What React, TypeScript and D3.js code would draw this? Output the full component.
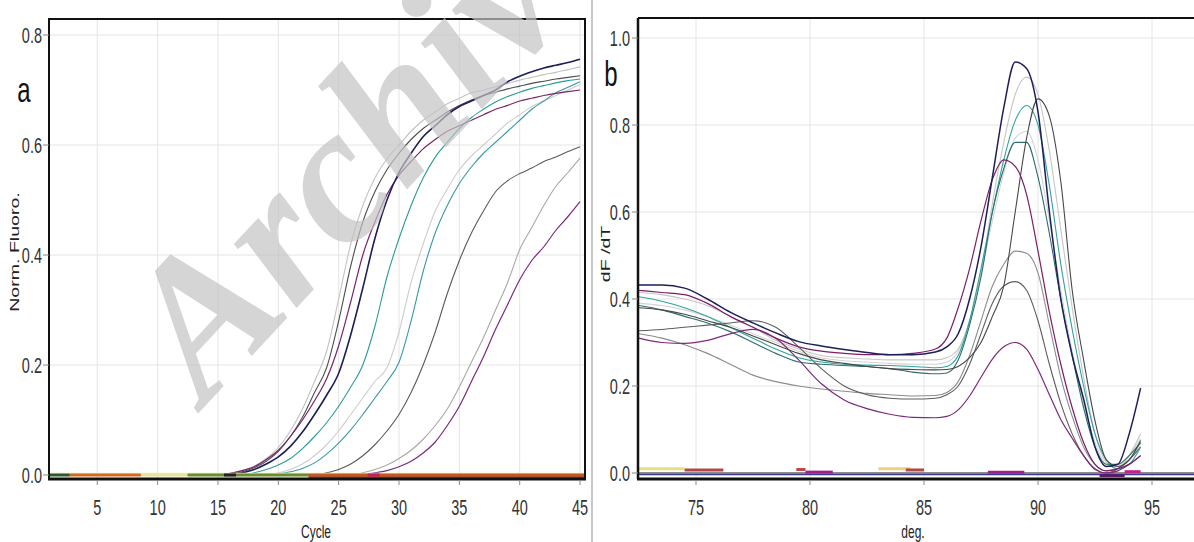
import React from "react";
import * as d3 from "d3";

// ---------- Panel a: amplification curves (Norm. Fluoro. vs Cycle) ----------
const CYCLES = d3.range(1, 46);
const AMP_X_TICKS = [5, 10, 15, 20, 25, 30, 35, 40, 45];
const AMP_Y_TICKS = [0, 0.2, 0.4, 0.6, 0.8];

const ampLightGrayA = [0,0,0,0,0,0,0,0,0,0,0,0,0,0,0,0.003,0.008,0.016,0.03,0.05,0.08,0.12,0.17,0.225,0.32,0.42,0.49,0.54,0.575,0.6,0.625,0.645,0.66,0.675,0.685,0.695,0.7,0.706,0.712,0.718,0.723,0.728,0.732,0.737,0.742];
const ampDarkGrayA = [0,0,0,0,0,0,0,0,0,0,0,0,0,0,0,0.002,0.006,0.013,0.025,0.043,0.07,0.105,0.15,0.195,0.28,0.38,0.46,0.515,0.555,0.585,0.61,0.63,0.645,0.66,0.672,0.682,0.69,0.696,0.702,0.707,0.712,0.716,0.72,0.723,0.726];
const ampPurpleA = [0,0,0,0,0,0,0,0,0,0,0,0,0,0,0,0.003,0.008,0.015,0.028,0.045,0.07,0.1,0.135,0.175,0.235,0.315,0.4,0.46,0.51,0.545,0.57,0.593,0.61,0.625,0.635,0.645,0.655,0.665,0.672,0.68,0.685,0.69,0.694,0.697,0.7];
const ampNavy = [0,0,0,0,0,0,0,0,0,0,0,0,0,0,0,0,0.004,0.01,0.02,0.033,0.052,0.078,0.11,0.145,0.185,0.255,0.34,0.43,0.5,0.55,0.585,0.615,0.635,0.655,0.67,0.68,0.69,0.7,0.715,0.725,0.733,0.74,0.745,0.75,0.756];
const ampTealA = [0,0,0,0,0,0,0,0,0,0,0,0,0,0,0,0,0,0.004,0.01,0.018,0.03,0.048,0.07,0.095,0.125,0.16,0.2,0.27,0.36,0.43,0.49,0.54,0.578,0.605,0.63,0.65,0.665,0.678,0.688,0.696,0.703,0.708,0.713,0.717,0.72];
const ampLightGrayB = [0,0,0,0,0,0,0,0,0,0,0,0,0,0,0,0,0,0,0,0.004,0.01,0.02,0.035,0.055,0.08,0.11,0.14,0.17,0.195,0.26,0.35,0.42,0.48,0.52,0.555,0.58,0.6,0.62,0.64,0.655,0.67,0.68,0.69,0.7,0.71];
const ampTealB = [0,0,0,0,0,0,0,0,0,0,0,0,0,0,0,0,0,0,0,0.002,0.006,0.012,0.022,0.038,0.058,0.082,0.11,0.14,0.17,0.205,0.28,0.37,0.44,0.49,0.53,0.56,0.585,0.605,0.625,0.645,0.665,0.68,0.695,0.705,0.715];
const ampDarkGrayB = [0,0,0,0,0,0,0,0,0,0,0,0,0,0,0,0,0,0,0,0,0,0,0,0.004,0.01,0.02,0.035,0.055,0.08,0.11,0.15,0.2,0.26,0.33,0.39,0.44,0.48,0.515,0.535,0.548,0.558,0.57,0.578,0.588,0.597];
const ampLightGrayC = [0,0,0,0,0,0,0,0,0,0,0,0,0,0,0,0,0,0,0,0,0,0,0,0,0,0,0.004,0.01,0.018,0.03,0.045,0.065,0.09,0.12,0.16,0.205,0.25,0.3,0.35,0.41,0.45,0.49,0.525,0.55,0.576];
const ampPurpleB = [0,0,0,0,0,0,0,0,0,0,0,0,0,0,0,0,0,0,0,0,0,0,0,0,0,0,0,0.004,0.008,0.015,0.025,0.04,0.06,0.09,0.125,0.17,0.215,0.265,0.31,0.355,0.39,0.415,0.445,0.47,0.497];

const AMP_SERIES = [
  { values: ampLightGrayC, color: "#a8a8a8", width: 1.1 },
  { values: ampLightGrayB, color: "#cdcdcd", width: 1.1 },
  { values: ampLightGrayA, color: "#c2c2c2", width: 1.1 },
  { values: ampTealB, color: "#3a98a8", width: 1.1 },
  { values: ampTealA, color: "#2a9c98", width: 1.1 },
  { values: ampDarkGrayB, color: "#5a5a5a", width: 1.1 },
  { values: ampDarkGrayA, color: "#4e4e4e", width: 1.1 },
  { values: ampPurpleB, color: "#7a2a80", width: 1.2 },
  { values: ampPurpleA, color: "#7b2466", width: 1.2 },
  { values: ampNavy, color: "#1e1e5a", width: 1.6 },
];

// baseline (no-amplification) traces, in cycles
const AMP_BASE_START = [1, 2.7, 8.6, 12.5, 15.5, 22.5, 27.4];
const AMP_BASE_END = [2.7, 8.6, 12.5, 22.5, 16.5, 45.4, 28.4];
const AMP_BASE_COLOR = ["#2d5a27", "#d2691e", "#e6e49c", "#6b8e2a", "#222222", "#c8561c", "#c02060"];

// ---------- Panel b: melt curves (dF/dT vs deg.) ----------
const MELT_X_TICKS = [75, 80, 85, 90, 95];
const MELT_Y_TICKS = [0, 0.2, 0.4, 0.6, 0.8, 1.0];
const TEMPS = [72.5,73.5,74.5,75.5,76.5,77.5,78.5,79.5,80.5,81.5,82.5,83.5,84.5,85.5,86,86.5,87,87.5,88,88.5,89,89.5,90,90.5,91,91.5,92,92.5,93,93.5,94,94.5];

const meltNavy = [0.432,0.432,0.425,0.4,0.37,0.345,0.322,0.302,0.292,0.284,0.277,0.272,0.272,0.278,0.29,0.32,0.4,0.52,0.68,0.84,0.945,0.93,0.83,0.6,0.4,0.27,0.17,0.06,0.015,0.02,0.09,0.195];
const meltLightGrayA = [0.415,0.41,0.4,0.385,0.36,0.335,0.305,0.285,0.27,0.265,0.262,0.26,0.26,0.26,0.265,0.285,0.35,0.46,0.62,0.76,0.87,0.91,0.87,0.74,0.56,0.38,0.22,0.09,0.025,0.01,0.04,0.09];
const meltDarkGrayA = [0.38,0.375,0.365,0.35,0.335,0.315,0.295,0.275,0.26,0.252,0.245,0.24,0.238,0.237,0.238,0.245,0.265,0.3,0.36,0.43,0.6,0.77,0.86,0.82,0.67,0.42,0.26,0.12,0.03,0.015,0.03,0.075];
const meltTeal = [0.405,0.395,0.38,0.36,0.335,0.31,0.285,0.265,0.255,0.25,0.248,0.247,0.245,0.242,0.245,0.27,0.35,0.47,0.6,0.72,0.81,0.845,0.8,0.66,0.48,0.33,0.2,0.09,0.03,0.01,0.02,0.06];
const meltLightGrayB = [0.39,0.385,0.375,0.36,0.34,0.32,0.3,0.28,0.265,0.258,0.255,0.252,0.25,0.25,0.255,0.28,0.35,0.46,0.58,0.69,0.77,0.785,0.72,0.58,0.42,0.28,0.16,0.07,0.02,0.015,0.04,0.08];
const meltDarkTeal = [0.385,0.375,0.36,0.345,0.325,0.3,0.275,0.255,0.25,0.247,0.245,0.24,0.232,0.228,0.23,0.26,0.34,0.45,0.6,0.7,0.76,0.76,0.68,0.55,0.4,0.27,0.15,0.06,0.02,0.02,0.04,0.07];
const meltPurpleA = [0.42,0.415,0.41,0.39,0.36,0.335,0.31,0.29,0.28,0.275,0.272,0.272,0.275,0.285,0.31,0.38,0.47,0.58,0.675,0.72,0.705,0.64,0.51,0.37,0.25,0.15,0.07,0.02,0.005,0.01,0.02,0.04];
const meltGray = [0.32,0.31,0.295,0.275,0.25,0.225,0.21,0.2,0.193,0.188,0.183,0.18,0.177,0.178,0.185,0.21,0.27,0.35,0.43,0.48,0.51,0.505,0.46,0.34,0.22,0.13,0.06,0.02,0.005,0.01,0.03,0.07];
const meltDarkGrayB = [0.327,0.33,0.335,0.34,0.345,0.35,0.335,0.29,0.24,0.2,0.18,0.172,0.17,0.172,0.18,0.2,0.25,0.32,0.39,0.43,0.44,0.42,0.35,0.25,0.16,0.09,0.04,0.01,0,0.01,0.03,0.06];
const meltPurpleB = [0.31,0.3,0.298,0.305,0.32,0.33,0.31,0.26,0.205,0.168,0.148,0.135,0.128,0.127,0.13,0.145,0.177,0.22,0.262,0.29,0.3,0.285,0.238,0.18,0.123,0.08,0.04,0.008,0,0.005,0.02,0.04];

const MELT_SERIES = [
  { values: meltLightGrayB, color: "#d4d4d4", width: 1.1 },
  { values: meltLightGrayA, color: "#c6c6c6", width: 1.1 },
  { values: meltGray, color: "#8c8c8c", width: 1.1 },
  { values: meltDarkGrayB, color: "#5e5e5e", width: 1.1 },
  { values: meltTeal, color: "#2fa3a0", width: 1.1 },
  { values: meltDarkTeal, color: "#2d6f6c", width: 1.1 },
  { values: meltDarkGrayA, color: "#474747", width: 1.1 },
  { values: meltPurpleB, color: "#7d2a7d", width: 1.2 },
  { values: meltPurpleA, color: "#7c1f68", width: 1.2 },
  { values: meltNavy, color: "#1e1e5c", width: 1.5 },
];

const MELT_BASE_START = [72.5, 74.5, 79.4, 79.8, 83, 84.2, 87.8, 92.7, 93.8];
const MELT_BASE_END = [74.5, 76.2, 79.8, 81, 84.4, 85, 89.4, 93.8, 94.5];
const MELT_BASE_LEVEL = [0.01, 0.007, 0.008, 0.002, 0.01, 0.007, 0.002, -0.006, 0.003];
const MELT_BASE_COLOR = ["#e8e080", "#b04848", "#c04848", "#a0208a", "#f0d080", "#b04848", "#a0208a", "#5a1a6a", "#c0208a"];

const FONT = "'Liberation Sans', Arial, Helvetica, sans-serif";
const SY = 1.5;

function SText({ x, y, children, size, anchor = "middle", sy = SY, rotate = 0, fill = "#333", family = FONT }: any) {
  return (
    <text
      transform={`translate(${x},${y}) scale(1,${sy}) rotate(${rotate})`}
      fontSize={size}
      fontFamily={family}
      textAnchor={anchor}
      dominantBaseline="central"
      fill={fill}
    >
      {children}
    </text>
  );
}

export default function App() {
  const W = 1194;
  const H = 542;
  const fmt = d3.format(".1f");

  // panel a geometry
  const aL = 49, aR = 585, aT = 19, aB = 479;
  const xA = d3.scaleLinear().domain([1, 45.41]).range([aL, aR]);
  const yA = d3.scaleLinear().domain([0, 0.8]).range([475, 35]);
  const lineA = d3
    .line<number>()
    .x((_, i) => xA(CYCLES[i]))
    .y((d) => yA(d))
    .curve(d3.curveMonotoneX);

  // panel b geometry
  const bL = 638, bR = 1200, bT = 18, bB = 479;
  const xB = d3.scaleLinear().domain([75, 95]).range([696, 1152]);
  const yB = d3.scaleLinear().domain([0, 1]).range([473, 38]);
  const lineB = d3
    .line<number>()
    .x((_, i) => xB(TEMPS[i]))
    .y((d) => yB(d))
    .curve(d3.curveMonotoneX);

  const grid = "#e4e4e4";
  const tickCol = "#888";

  return (
    <svg width={W} height={H} style={{ position: "absolute", left: 0, top: 0, background: "#fff" }}>
      <defs>
        <clipPath id="clipA">
          <rect x={aL} y={aT} width={aR - aL} height={aB - aT} />
        </clipPath>
        <clipPath id="clipB">
          <rect x={bL} y={bT} width={bR - bL} height={bB - bT} />
        </clipPath>
      </defs>
      <rect x={0} y={0} width={W} height={H} fill="#fff" />

      {/* ---------------- Panel a ---------------- */}
      <g>
        {AMP_X_TICKS.map((t) => (
          <line key={"agx" + t} x1={xA(t)} x2={xA(t)} y1={aT} y2={aB} stroke={grid} strokeWidth={1} />
        ))}
        {AMP_Y_TICKS.map((t) => (
          <line key={"agy" + t} x1={aL} x2={aR} y1={yA(t)} y2={yA(t)} stroke={grid} strokeWidth={1} />
        ))}
        <g clipPath="url(#clipA)">
          {AMP_SERIES.map((s, i) => (
            <path key={"as" + i} d={lineA(s.values) || ""} fill="none" stroke={s.color} strokeWidth={s.width} />
          ))}
          <line x1={aL} x2={aR} y1={yA(0) - 1.5} y2={yA(0) - 1.5} stroke="#f3eaa8" strokeWidth={1.5} />
          <line x1={xA(22.5)} x2={aR} y1={yA(0) + 2} y2={yA(0) + 2} stroke="#6a0f0f" strokeWidth={1.5} />
          {AMP_BASE_START.map((s, i) => (
            <line
              key={"ab" + i}
              x1={xA(s)}
              x2={xA(AMP_BASE_END[i])}
              y1={yA(0)}
              y2={yA(0)}
              stroke={AMP_BASE_COLOR[i]}
              strokeWidth={3}
            />
          ))}
        </g>
        <rect x={aL} y={aT} width={aR - aL} height={aB - aT} fill="none" stroke="#111" strokeWidth={2} />
        <line x1={aL - 1} x2={aR + 1} y1={aB} y2={aB} stroke="#111" strokeWidth={3} />
        {AMP_Y_TICKS.map((t) => (
          <g key={"ayt" + t}>
            <line x1={aL - 6} x2={aL} y1={yA(t)} y2={yA(t)} stroke={tickCol} strokeWidth={1} />
            <SText x={aL - 7} y={yA(t)} size={14.5} anchor="end">
              {fmt(t)}
            </SText>
          </g>
        ))}
        {AMP_X_TICKS.map((t) => (
          <g key={"axt" + t}>
            <line x1={xA(t)} x2={xA(t)} y1={aB + 1} y2={aB + 6} stroke={tickCol} strokeWidth={1} />
            <SText x={xA(t)} y={507} size={14.5}>
              {t}
            </SText>
          </g>
        ))}
        <SText x={316} y={532} size={12} fill="#222">
          Cycle
        </SText>
        <SText x={15} y={252} size={13.5} rotate={-90} sy={1.45} fill="#222">
          Norm. Fluoro.
        </SText>
        <SText x={24} y={90} size={24} sy={1.45} fill="#111">
          a
        </SText>
      </g>

      {/* divider */}
      <line x1={592} x2={592} y1={0} y2={H} stroke="#b4b4b4" strokeWidth={1.5} />

      {/* ---------------- Panel b ---------------- */}
      <g>
        {MELT_X_TICKS.map((t) => (
          <line key={"bgx" + t} x1={xB(t)} x2={xB(t)} y1={bT} y2={bB} stroke={grid} strokeWidth={1} />
        ))}
        {MELT_Y_TICKS.map((t) => (
          <line key={"bgy" + t} x1={bL} x2={bR} y1={yB(t)} y2={yB(t)} stroke={grid} strokeWidth={1} />
        ))}
        <g clipPath="url(#clipB)">
          <line x1={bL} x2={bR} y1={yB(0) + 1.5} y2={yB(0) + 1.5} stroke="#3a3a90" strokeWidth={1.5} />
          <line x1={bL} x2={bR} y1={yB(0)} y2={yB(0)} stroke="#6a6a6a" strokeWidth={1.5} />
          {MELT_SERIES.map((s, i) => (
            <path key={"ms" + i} d={lineB(s.values) || ""} fill="none" stroke={s.color} strokeWidth={s.width} />
          ))}
          {MELT_BASE_START.map((s, i) => (
            <line
              key={"mb" + i}
              x1={xB(s)}
              x2={xB(MELT_BASE_END[i])}
              y1={yB(MELT_BASE_LEVEL[i])}
              y2={yB(MELT_BASE_LEVEL[i])}
              stroke={MELT_BASE_COLOR[i]}
              strokeWidth={3}
            />
          ))}
        </g>
        <line x1={bL} x2={bR} y1={bT} y2={bT} stroke="#111" strokeWidth={2} />
        <line x1={bL} x2={bL} y1={bT} y2={bB} stroke="#111" strokeWidth={2.5} />
        <line x1={bL - 1} x2={bR} y1={bB} y2={bB} stroke="#111" strokeWidth={3} />
        {MELT_Y_TICKS.map((t) => (
          <g key={"byt" + t}>
            <line x1={bL - 6} x2={bL} y1={yB(t)} y2={yB(t)} stroke={tickCol} strokeWidth={1} />
            <SText x={bL - 8} y={yB(t)} size={14.5} anchor="end">
              {fmt(t)}
            </SText>
          </g>
        ))}
        {MELT_X_TICKS.map((t) => (
          <g key={"bxt" + t}>
            <line x1={xB(t)} x2={xB(t)} y1={bB + 1} y2={bB + 6} stroke={tickCol} strokeWidth={1} />
            <SText x={xB(t)} y={507} size={14.5}>
              {t}
            </SText>
          </g>
        ))}
        <SText x={913} y={532} size={12} fill="#222">
          deg.
        </SText>
        <SText x={606} y={254} size={13.5} rotate={-90} sy={1.45} fill="#222">
          dF /dT
        </SText>
        <SText x={611} y={74} size={24} sy={1.45} fill="#111">
          b
        </SText>
      </g>

      {/* watermark */}
      <text
        transform="translate(205,406) rotate(-47)"
        fontSize={195}
        fontFamily="'Liberation Serif', 'Times New Roman', serif"
        fontWeight="bold"
        fontStyle="italic"
        fill="#c4c4c4"
        opacity={0.7}
      >
        Archive
      </text>
    </svg>
  );
}
